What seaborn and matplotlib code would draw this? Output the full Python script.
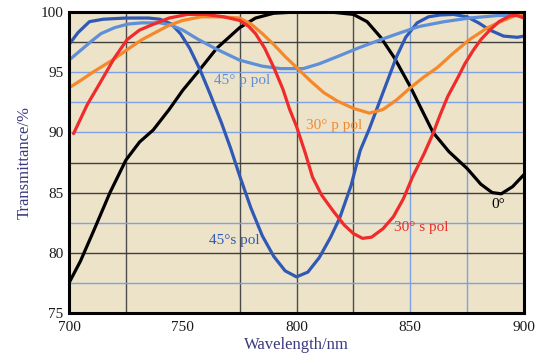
import numpy as np
import pandas as pd
import matplotlib
matplotlib.use("Agg")
import matplotlib.pyplot as plt
import seaborn as sns

# ---- data ----
wl_0deg = [700, 705, 711, 718, 725, 731, 737, 744, 750, 757, 765, 775, 782, 790, 800, 815, 825, 831, 837, 843, 850, 855, 860, 867, 875, 881, 886, 890, 895, 900]
t_0deg = [77.5, 79.3, 81.9, 85.0, 87.7, 89.2, 90.2, 91.9, 93.5, 95.1, 97.0, 98.7, 99.5, 99.9, 100.0, 100.0, 99.8, 99.2, 97.9, 96.2, 93.8, 91.9, 90.0, 88.4, 87.0, 85.7, 85.0, 84.9, 85.5, 86.5]

wl_45s = [700, 704, 709, 715, 725, 735, 740, 745, 749, 753, 757.6, 762, 767, 771, 775, 780, 785, 790, 795, 800, 805, 810, 815, 819, 824, 828, 832, 835, 840, 844, 848, 853, 858, 863, 869, 875, 880, 885, 891, 897, 900]
t_45s = [97.3, 98.3, 99.2, 99.4, 99.5, 99.5, 99.4, 99.0, 98.2, 97.0, 95.2, 93.2, 90.8, 88.7, 86.4, 83.7, 81.4, 79.7, 78.5, 78.0, 78.4, 79.6, 81.3, 82.9, 85.6, 88.5, 90.3, 91.8, 94.3, 96.3, 97.9, 99.1, 99.6, 99.75, 99.8, 99.6, 99.1, 98.5, 98.0, 97.9, 98.0]

wl_45p = [700, 705, 710, 714, 720, 726, 732, 740, 745, 750, 757, 765, 775, 785, 793, 803, 810, 818, 827, 837, 846, 854, 865, 876, 888, 900]
t_45p = [96.0, 96.8, 97.6, 98.2, 98.7, 99.0, 99.1, 99.1, 98.9, 98.5, 97.7, 96.9, 96.0, 95.5, 95.3, 95.3, 95.7, 96.3, 97.0, 97.7, 98.3, 98.8, 99.2, 99.5, 99.7, 99.75]

wl_30p = [700, 705, 710.5, 719, 725, 732, 738, 744, 750, 758, 767, 775, 780, 785, 790, 795, 800, 806, 812, 818, 825, 832, 838, 844, 850, 856, 862, 869, 876, 884, 891, 896, 900]
t_30p = [93.7, 94.3, 95.0, 96.0, 96.8, 97.7, 98.3, 98.9, 99.3, 99.6, 99.6, 99.5, 99.0, 98.2, 97.3, 96.3, 95.4, 94.3, 93.3, 92.6, 92.0, 91.6, 91.9, 92.7, 93.7, 94.6, 95.4, 96.6, 97.7, 98.7, 99.3, 99.7, 99.9]

wl_30s = [702, 708, 713.6, 720, 725.5, 731, 736, 744, 752, 760, 768, 775, 779, 782, 786, 790, 794, 797, 800, 804, 807, 811, 816, 821, 825, 829, 833, 838, 842.6, 847, 851, 856, 860, 863, 866.5, 870.5, 874, 877.6, 881, 885, 889, 894, 897, 900]
t_30s = [89.9, 92.3, 94.1, 96.2, 97.7, 98.5, 98.9, 99.5, 99.8, 99.8, 99.6, 99.3, 98.8, 98.2, 97.0, 95.4, 93.6, 91.9, 90.5, 88.2, 86.3, 84.8, 83.5, 82.3, 81.6, 81.2, 81.3, 82.0, 83.0, 84.5, 86.3, 88.2, 89.9, 91.4, 93.0, 94.4, 95.7, 96.8, 97.7, 98.5, 99.2, 99.7, 99.7, 99.5]

series_names = ["0°", "45°s pol", "45° p pol", "30° p pol", "30° s pol"]
series_wl = [wl_0deg, wl_45s, wl_45p, wl_30p, wl_30s]
series_t = [t_0deg, t_45s, t_45p, t_30p, t_30s]
series_colors = ["#000000", "#2f59b5", "#5f8fd9", "#f6882c", "#ef2b2b"]

x_ticks = [700, 750, 800, 850, 900]
y_ticks = [75, 80, 85, 90, 95, 100]
grid_x_dark = [725, 775, 800, 825]
grid_x_blue = [850, 875]
grid_y_dark = [97.5, 87.5, 85, 80]
grid_y_blue = [95, 92.5, 90, 82.5, 77.5]

# label positions (wavelength, transmittance)
label_pos = {
    "0°": (888.6, 84.0),
    "45°s pol": (772.5, 81.0),
    "45° p pol": (776.0, 94.35),
    "30° p pol": (816.5, 90.6),
    "30° s pol": (855.0, 82.1),
}

frames = []
for name, w, t in zip(series_names, series_wl, series_t):
    frames.append(pd.DataFrame({"Wavelength": w, "T": t, "series": name}))
df = pd.concat(frames, ignore_index=True)

sns.set_theme(style="white")
plt.rcParams["font.family"] = ["Liberation Serif", "DejaVu Serif"]

fig = plt.figure(figsize=(5.53, 3.64), dpi=100)
ax = fig.add_axes([0.1248, 0.1401, 0.8228, 0.8269])
ax.set_facecolor("#ece3c9")

for xv in grid_x_dark:
    ax.axvline(xv, color="#4a4a4a", lw=1.0, zorder=1)
for xv in grid_x_blue:
    ax.axvline(xv, color="#7fa0e3", lw=1.0, zorder=1)
for yv in grid_y_dark:
    ax.axhline(yv, color="#3f3f3f", lw=1.0, zorder=1)
for yv in grid_y_blue:
    ax.axhline(yv, color="#7fa0e3", lw=1.0, zorder=1.2)

sns.lineplot(data=df, x="Wavelength", y="T", hue="series", hue_order=series_names,
             palette=dict(zip(series_names, series_colors)), sort=False,
             linewidth=2.3, legend=False, ax=ax, zorder=3)

for name, col in zip(series_names, series_colors):
    lx, ly = label_pos[name]
    ax.text(lx, ly, name, color=col, fontsize=11, ha="center", va="center", zorder=4)

ax.set_xlim(700, 900)
ax.set_ylim(75, 100)
ax.set_xticks(x_ticks)
ax.set_yticks(y_ticks)
ax.tick_params(axis="both", length=0, labelsize=11, colors="#1a1a1a")
ax.tick_params(axis="x", pad=6)
ax.tick_params(axis="y", pad=4)
ax.set_xlabel("Wavelength/nm", fontsize=12, color="#3b3a80", labelpad=2)
ax.set_ylabel("Transmittance/%", fontsize=12, color="#3b3a80", labelpad=6)
for sp in ax.spines.values():
    sp.set_visible(True)
    sp.set_color("#000000")
    sp.set_linewidth(2.2)
    sp.set_zorder(5)

fig.savefig("out.png", dpi=100)
